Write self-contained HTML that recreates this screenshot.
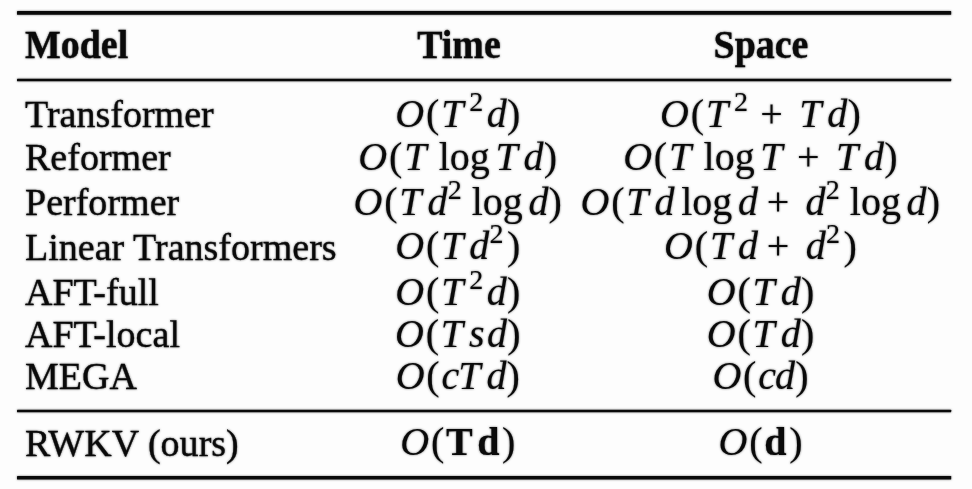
<!DOCTYPE html>
<html lang="en"><head><meta charset="utf-8"><title>Complexity comparison of Transformer variants and RWKV</title>
<style>
html,body{margin:0;padding:0}
body{width:972px;height:489px;overflow:hidden;background:#fdfdfd;color:#0a0a0a;font-family:"Liberation Serif",serif;position:relative}
table,thead,tbody,tr,th,td{display:block;margin:0;padding:0;border:0;font-weight:normal;text-align:left}
#tbl{position:absolute;left:0;top:0;width:972px;height:489px;overflow:hidden;filter:drop-shadow(0 0 0.80px rgba(10,10,10,0.55))}
#tbl th,#tbl td{position:absolute;white-space:nowrap}
td.t{font-size:38.90px;line-height:38.90px;transform:scaleX(0.9780);transform-origin:0 0}
th.h{font-weight:bold;font-size:39.00px;line-height:39.00px;transform:scaleX(0.9720);transform-origin:0 0}
th.hc{transform:translateX(-50%) scaleX(0.9720);transform-origin:50% 0}
td.t,th.h{-webkit-text-stroke:0.30px #0a0a0a}
svg{display:block;overflow:visible;fill:#0a0a0a;stroke:#0a0a0a;stroke-width:0.100;stroke-linejoin:round}
#art{position:absolute;left:0;top:0}
td.m text{font-family:"Liberation Serif",serif;font-size:40px;fill:#0a0a0a}
td.m .i{font-style:italic}
td.m .b{font-weight:bold}
td.m .s{font-size:28px}
</style></head><body>
<svg id="art" width="972" height="489" viewBox="0 0 972 489" aria-hidden="true">
</svg>
<table id="tbl">
<caption style="display:block;position:absolute;left:0;top:0;width:972px;height:489px"><svg width="972" height="489" viewBox="0 0 972 489" aria-hidden="true">
<rect x="17.00" y="11.10" width="934.20" height="3.70" rx="0.60" stroke="none"/>
<rect x="17.00" y="78.65" width="934.20" height="2.70" rx="0.60" stroke="none"/>
<rect x="17.00" y="409.65" width="934.20" height="2.70" rx="0.60" stroke="none"/>
<rect x="17.00" y="475.90" width="934.20" height="3.70" rx="0.60" stroke="none"/>
</svg></caption>
<thead><tr>
<th class="h" scope="col" style="left:25.00px;top:25.24px">Model</th>
<th class="h hc" scope="col" style="left:458.90px;top:25.24px">Time</th>
<th class="h hc" scope="col" style="left:761.00px;top:25.24px">Space</th>
</tr></thead>
<tbody>
<tr>
<td class="t" style="left:25.00px;top:95.12px">Transformer</td>
<td class="m" style="left:395px;top:93px;width:128px;height:46px"><svg width="128" height="46" role="img" aria-label="O(T^2 d)"><title>O(T^2 d)</title><text y="34.00"><tspan class="i" x="0.31">O</tspan><tspan x="31.00">(</tspan><tspan class="i" x="46.13">T</tspan><tspan class="s" x="74.24" y="17.73">2</tspan><tspan class="i" x="91.77" y="34.00">d</tspan><tspan x="111.93">)</tspan></text></svg></td>
<td class="m" style="left:660px;top:93px;width:204px;height:46px"><svg width="204" height="46" role="img" aria-label="O(T^2 + Td)"><title>O(T^2 + Td)</title><text y="34.00"><tspan class="i" x="0.11">O</tspan><tspan x="30.80">(</tspan><tspan class="i" x="45.93">T</tspan><tspan class="s" x="74.04" y="17.73">2</tspan><tspan x="100.22" y="34.00">+</tspan><tspan class="i" x="139.13">T</tspan><tspan class="i" x="167.25">d</tspan><tspan x="187.40">)</tspan></text></svg></td>
</tr>
<tr>
<td class="t" style="left:25.00px;top:137.72px">Reformer</td>
<td class="m" style="left:358px;top:135px;width:202px;height:46px"><svg width="202" height="46" role="img" aria-label="O(T log Td)"><title>O(T log Td)</title><text y="34.60"><tspan class="i" x="0.34">O</tspan><tspan x="31.03">(</tspan><tspan class="i" x="46.16">T</tspan><tspan x="80.76">log</tspan><tspan class="i" x="137.50">T</tspan><tspan class="i" x="165.62">d</tspan><tspan x="185.77">)</tspan></text></svg></td>
<td class="m" style="left:623px;top:135px;width:278px;height:46px"><svg width="278" height="46" role="img" aria-label="O(T log T + Td)"><title>O(T log T + Td)</title><text y="34.60"><tspan class="i" x="0.14">O</tspan><tspan x="30.83">(</tspan><tspan class="i" x="45.96">T</tspan><tspan x="80.56">log</tspan><tspan class="i" x="137.30">T</tspan><tspan x="174.06">+</tspan><tspan class="i" x="212.97">T</tspan><tspan class="i" x="241.09">d</tspan><tspan x="261.24">)</tspan></text></svg></td>
</tr>
<tr>
<td class="t" style="left:25.00px;top:182.92px">Performer</td>
<td class="m" style="left:353px;top:180px;width:212px;height:46px"><svg width="212" height="46" role="img" aria-label="O(Td^2 log d)"><title>O(Td^2 log d)</title><text y="34.80"><tspan class="i" x="0.54">O</tspan><tspan x="31.23">(</tspan><tspan class="i" x="46.36">T</tspan><tspan class="i" x="74.48">d</tspan><tspan class="s" x="94.63" y="18.53">2</tspan><tspan x="118.64" y="34.80">log</tspan><tspan class="i" x="175.39">d</tspan><tspan x="195.56">)</tspan></text></svg></td>
<td class="m" style="left:580px;top:180px;width:363px;height:46px"><svg width="363" height="46" role="img" aria-label="O(Td log d + d^2 log d)"><title>O(Td log d + d^2 log d)</title><text y="34.80"><tspan class="i" x="0.55">O</tspan><tspan x="31.24">(</tspan><tspan class="i" x="46.37">T</tspan><tspan class="i" x="74.49">d</tspan><tspan x="101.13">log</tspan><tspan class="i" x="157.88">d</tspan><tspan x="186.68">+</tspan><tspan class="i" x="225.60">d</tspan><tspan class="s" x="245.76" y="18.53">2</tspan><tspan x="269.77" y="34.80">log</tspan><tspan class="i" x="326.52">d</tspan><tspan x="346.68">)</tspan></text></svg></td>
</tr>
<tr>
<td class="t" style="left:25.00px;top:227.52px">Linear Transformers</td>
<td class="m" style="left:395px;top:225px;width:128px;height:46px"><svg width="128" height="46" role="img" aria-label="O(Td^2)"><title>O(Td^2)</title><text y="34.40"><tspan class="i" x="0.31">O</tspan><tspan x="31.00">(</tspan><tspan class="i" x="46.13">T</tspan><tspan class="i" x="74.25">d</tspan><tspan class="s" x="94.40" y="18.13">2</tspan><tspan x="111.93" y="34.40">)</tspan></text></svg></td>
<td class="m" style="left:664px;top:225px;width:196px;height:46px"><svg width="196" height="46" role="img" aria-label="O(Td + d^2)"><title>O(Td + d^2)</title><text y="34.40"><tspan class="i" x="0.09">O</tspan><tspan x="30.78">(</tspan><tspan class="i" x="45.91">T</tspan><tspan class="i" x="74.03">d</tspan><tspan x="102.83">+</tspan><tspan class="i" x="141.74">d</tspan><tspan class="s" x="161.90" y="18.13">2</tspan><tspan x="179.43" y="34.40">)</tspan></text></svg></td>
</tr>
<tr>
<td class="t" style="left:25.00px;top:273.02px">AFT-full</td>
<td class="m" style="left:395px;top:270px;width:128px;height:46px"><svg width="128" height="46" role="img" aria-label="O(T^2 d)"><title>O(T^2 d)</title><text y="34.90"><tspan class="i" x="0.31">O</tspan><tspan x="31.00">(</tspan><tspan class="i" x="46.13">T</tspan><tspan class="s" x="74.24" y="18.63">2</tspan><tspan class="i" x="91.77" y="34.90">d</tspan><tspan x="111.93">)</tspan></text></svg></td>
<td class="m" style="left:706px;top:270px;width:111px;height:46px"><svg width="111" height="46" role="img" aria-label="O(Td)"><title>O(Td)</title><text y="34.90"><tspan class="i" x="0.79">O</tspan><tspan x="31.48">(</tspan><tspan class="i" x="46.61">T</tspan><tspan class="i" x="74.73">d</tspan><tspan x="94.88">)</tspan></text></svg></td>
</tr>
<tr>
<td class="t" style="left:25.00px;top:315.02px">AFT-local</td>
<td class="m" style="left:395px;top:312px;width:129px;height:46px"><svg width="129" height="46" role="img" aria-label="O(Tsd)"><title>O(Tsd)</title><text y="34.90"><tspan class="i" x="0.01">O</tspan><tspan x="30.70">(</tspan><tspan class="i" x="45.83">T</tspan><tspan class="i" x="73.95">s</tspan><tspan class="i" x="92.08">d</tspan><tspan x="112.23">)</tspan></text></svg></td>
<td class="m" style="left:706px;top:312px;width:111px;height:46px"><svg width="111" height="46" role="img" aria-label="O(Td)"><title>O(Td)</title><text y="34.90"><tspan class="i" x="0.79">O</tspan><tspan x="31.48">(</tspan><tspan class="i" x="46.61">T</tspan><tspan class="i" x="74.73">d</tspan><tspan x="94.88">)</tspan></text></svg></td>
</tr>
<tr>
<td class="t" style="left:25.00px;top:356.92px">MEGA</td>
<td class="m" style="left:395px;top:354px;width:128px;height:46px"><svg width="128" height="46" role="img" aria-label="O(cTd)"><title>O(cTd)</title><text y="34.80"><tspan class="i" x="0.65">O</tspan><tspan x="31.34">(</tspan><tspan class="i" x="46.47">c</tspan><tspan class="i" x="63.32">T</tspan><tspan class="i" x="91.43">d</tspan><tspan x="111.59">)</tspan></text></svg></td>
<td class="m" style="left:712px;top:354px;width:100px;height:46px"><svg width="100" height="46" role="img" aria-label="O(cd)"><title>O(cd)</title><text y="34.80"><tspan class="i" x="0.43">O</tspan><tspan x="31.12">(</tspan><tspan class="i" x="46.25">c</tspan><tspan class="i" x="63.10">d</tspan><tspan x="83.26">)</tspan></text></svg></td>
</tr>
<tr>
<td class="t" style="left:25.00px;top:423.52px">RWKV (ours)</td>
<td class="m" style="left:400px;top:421px;width:119px;height:46px"><svg width="119" height="46" role="img" aria-label="O(Td)"><title>O(Td)</title><text y="34.40"><tspan class="i" x="0.19">O</tspan><tspan x="30.88">(</tspan><tspan class="b" x="46.01">T</tspan><tspan class="b" x="77.18">d</tspan><tspan x="102.07">)</tspan></text></svg></td>
<td class="m" style="left:718px;top:421px;width:87px;height:46px"><svg width="87" height="46" role="img" aria-label="O(d)"><title>O(d)</title><text y="34.40"><tspan class="i" x="0.50">O</tspan><tspan x="31.19">(</tspan><tspan class="b" x="46.32">d</tspan><tspan x="71.21">)</tspan></text></svg></td>
</tr>
</tbody></table>
</body></html>
